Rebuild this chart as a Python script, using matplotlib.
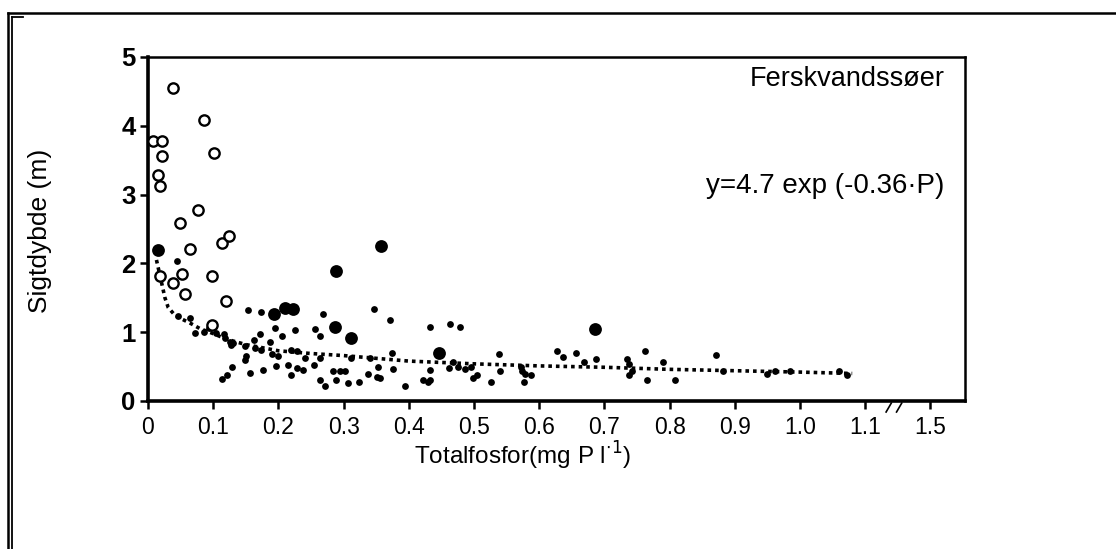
import matplotlib
matplotlib.use("Agg")
import matplotlib.pyplot as plt
from matplotlib.lines import Line2D


# open circles
open_x = [0.039, 0.086, 0.008, 0.022, 0.022, 0.101, 0.015, 0.018, 0.076, 0.049,
          0.113, 0.125, 0.064, 0.019, 0.038, 0.052, 0.057, 0.098, 0.119, 0.098]
open_y = [4.55, 4.08, 3.78, 3.78, 3.56, 3.60, 3.28, 3.12, 2.78, 2.59,
          2.30, 2.40, 2.21, 1.82, 1.72, 1.85, 1.55, 1.82, 1.45, 1.11]

# large filled circles
big_x = [0.016, 0.358, 0.288, 0.193, 0.222, 0.210, 0.287, 0.312, 0.446, 0.685]
big_y = [2.19, 2.26, 1.89, 1.27, 1.34, 1.35, 1.07, 0.92, 0.70, 1.05]

# small filled dots
dot_x = [0.044, 0.046, 0.064, 0.072, 0.086, 0.093, 0.105, 0.117, 0.126, 0.118,
         0.154, 0.174, 0.172, 0.195, 0.149, 0.162, 0.164, 0.151, 0.174, 0.190,
         0.200, 0.205, 0.187, 0.220, 0.215, 0.220, 0.197, 0.177, 0.156, 0.129,
         0.113, 0.121, 0.149, 0.269, 0.347, 0.371, 0.432, 0.225, 0.256, 0.264,
         0.228, 0.241, 0.228, 0.238, 0.254, 0.264, 0.284, 0.294, 0.302, 0.264,
         0.271, 0.289, 0.307, 0.323, 0.312, 0.340, 0.353, 0.338, 0.351, 0.356,
         0.374, 0.376, 0.394, 0.422, 0.430, 0.433, 0.463, 0.479, 0.433, 0.461,
         0.468, 0.476, 0.486, 0.496, 0.499, 0.504, 0.526, 0.539, 0.540, 0.572,
         0.573, 0.578, 0.576, 0.588, 0.628, 0.636, 0.656, 0.668, 0.687, 0.735,
         0.738, 0.742, 0.737, 0.762, 0.765, 0.790, 0.808, 0.871, 0.882, 0.949,
         0.962, 0.985, 1.059, 1.072, 0.130, 0.128]
dot_y = [2.03, 1.24, 1.21, 0.99, 1.01, 1.06, 0.99, 0.98, 0.86, 0.91,
         1.32, 1.29, 0.98, 1.06, 0.80, 0.89, 0.77, 0.65, 0.74, 0.69,
         0.65, 0.94, 0.86, 0.74, 0.52, 0.38, 0.51, 0.45, 0.41, 0.49,
         0.32, 0.38, 0.60, 1.26, 1.34, 1.17, 1.07, 1.03, 1.04, 0.94,
         0.72, 0.62, 0.48, 0.45, 0.52, 0.62, 0.43, 0.43, 0.44, 0.31,
         0.22, 0.31, 0.26, 0.28, 0.62, 0.62, 0.49, 0.39, 0.35, 0.33,
         0.70, 0.46, 0.22, 0.31, 0.28, 0.45, 1.12, 1.08, 0.31, 0.48,
         0.56, 0.49, 0.46, 0.49, 0.33, 0.38, 0.28, 0.69, 0.44, 0.50,
         0.43, 0.39, 0.28, 0.38, 0.73, 0.64, 0.70, 0.56, 0.61, 0.61,
         0.54, 0.43, 0.38, 0.72, 0.31, 0.56, 0.30, 0.67, 0.43, 0.39,
         0.43, 0.44, 0.43, 0.38, 0.85, 0.82]

# fitted curve
fit_x = [0.013, 0.018, 0.022, 0.026, 0.031, 0.040, 0.050, 0.065, 0.080, 0.100,
         0.120, 0.150, 0.200, 0.250, 0.300, 0.400, 0.500, 0.600, 0.700, 0.800,
         0.900, 1.000, 1.080]
fit_y = [2.05, 1.84, 1.67, 1.50, 1.36, 1.26, 1.20, 1.13, 1.05, 0.98,
         0.90, 0.82, 0.73, 0.69, 0.66, 0.58, 0.54, 0.51, 0.49, 0.46,
         0.44, 0.42, 0.40]

x_ticks = [0.0, 0.1, 0.2, 0.3, 0.4, 0.5, 0.6, 0.7, 0.8, 0.9, 1.0, 1.1, 1.2]
x_labels = ["0", "0.1", "0.2", "0.3", "0.4", "0.5", "0.6", "0.7", "0.8", "0.9",
            "1.0", "1.1", "1.5"]
y_ticks = [0, 1, 2, 3, 4, 5]

plt.rcParams["font.family"] = ["Liberation Sans", "DejaVu Sans"]

fig = plt.figure(figsize=(11.16, 5.49), dpi=100)
ax = fig.add_axes([0.1326, 0.2696, 0.7321, 0.6266])

ax.plot(fit_x, fit_y, color="black", linestyle=(0, (1.0, 1.1)), linewidth=2.6, zorder=2)
ax.scatter(dot_x, dot_y, s=24, color="black", linewidths=0, zorder=3)
ax.scatter(big_x, big_y, s=85, color="black", linewidths=0, zorder=3)
ax.scatter(open_x, open_y, s=55, facecolors="white", edgecolors="black",
           linewidths=1.7, zorder=3)

ax.set_xlim(0, 1.253)
ax.set_ylim(0, 5)
ax.set_xticks(x_ticks)
ax.set_xticklabels(x_labels, fontsize=16.5)
ax.set_yticks(y_ticks)
ax.set_yticklabels([str(v) for v in y_ticks], fontsize=18.5, fontweight="bold")
ax.tick_params(axis="both", direction="out", length=6, width=1.8, colors="black")
ax.tick_params(axis="x", pad=5)
ax.tick_params(axis="y", pad=3)

for side in ["left", "bottom"]:
    ax.spines[side].set_linewidth(2.6)
for side in ["top", "right"]:
    ax.spines[side].set_linewidth(1.8)

# axis break marks next to 1.1
for bx in [1.132, 1.148]:
    ax.plot([bx, bx + 0.008], [-0.16, -0.03], color="black", linewidth=1.2, clip_on=False)

ax.text(1.222, 4.68, "Ferskvandssøer", ha="right", va="center", fontsize=19.5)
ax.text(1.222, 3.12, "y=4.7 exp (-0.36·P)", ha="right", va="center", fontsize=20)

fig.text(0.036, 0.58, "Sigtdybde (m)", rotation=90, ha="center", va="center", fontsize=19)
fig.text(0.468, 0.17, "Totalfosfor(mg P l$^{\\cdot 1}$)", ha="center", va="center",
         fontsize=17.5)

# scanned page frame
W, H = 1116, 549
fig.add_artist(Line2D([8 / W, 8 / W], [0, 1 - 13 / H], color="black", linewidth=1.8))
fig.add_artist(Line2D([12 / W, 12 / W], [0, 1 - 17 / H], color="black", linewidth=1.3))
fig.add_artist(Line2D([8 / W, 1], [1 - 13 / H, 1 - 13 / H], color="black", linewidth=1.8))
fig.add_artist(Line2D([12 / W, 23 / W], [1 - 17 / H, 1 - 17 / H], color="black", linewidth=1.3))

fig.savefig("out.png", dpi=100)
